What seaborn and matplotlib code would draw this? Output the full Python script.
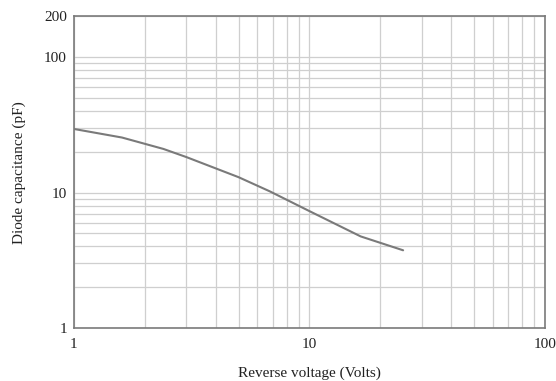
import numpy as np
import pandas as pd
import seaborn as sns
import matplotlib
matplotlib.use("Agg")
import matplotlib.pyplot as plt
from matplotlib.ticker import FixedLocator, NullFormatter

# curve
voltage = [1.0, 1.6, 2.4, 3.0, 5.0, 6.8, 10.0, 16.5, 25.0]
capacitance = [29.5, 25.5, 21.0, 18.3, 13.0, 10.2, 7.3, 4.75, 3.75]

x_ticks = [1, 10, 100]
x_minor = [2, 3, 4, 5, 6, 7, 8, 9, 20, 30, 40, 50, 60, 70, 80, 90]
y_ticks = [1, 10, 100, 200]
y_minor = [2, 3, 4, 5, 6, 7, 8, 9, 20, 30, 40, 50, 60, 70, 80, 90]

df = pd.DataFrame({"voltage": voltage, "capacitance": capacitance})

sns.set_style("white")
plt.rcParams["font.family"] = ["Liberation Serif", "DejaVu Serif"]

fig = plt.figure(figsize=(5.56, 3.81), dpi=100)
ax = fig.add_axes([0.133, 0.139, 0.847, 0.818])

sns.lineplot(df, x="voltage", y="capacitance", color="#7a7a7a", lw=1.5, ax=ax)

ax.set_xscale("log")
ax.set_yscale("log")
ax.set_xlim(1, 100)
ax.set_ylim(1, 200)

ax.xaxis.set_major_locator(FixedLocator(x_ticks))
ax.xaxis.set_minor_locator(FixedLocator(x_minor))
ax.yaxis.set_major_locator(FixedLocator(y_ticks))
ax.yaxis.set_minor_locator(FixedLocator(y_minor))
ax.set_xticklabels([str(t) for t in x_ticks])
ax.set_yticklabels([str(t) for t in y_ticks])
ax.xaxis.set_minor_formatter(NullFormatter())
ax.yaxis.set_minor_formatter(NullFormatter())

ax.grid(True, which="both", color="#cfcfcf", lw=0.9)
ax.set_axisbelow(True)
ax.tick_params(which="both", length=0, labelsize=11, colors="#222222")
ax.tick_params(axis="x", pad=7)
ax.tick_params(axis="y", pad=5)

for s in ax.spines.values():
    s.set_color("#7a7a7a")
    s.set_linewidth(1.2)

ax.set_xlabel("Reverse voltage (Volts)", fontsize=11, color="#222222", labelpad=11)
ax.set_ylabel("Diode capacitance (pF)", fontsize=11, color="#222222", labelpad=13)

fig.savefig("out.png", dpi=100)
